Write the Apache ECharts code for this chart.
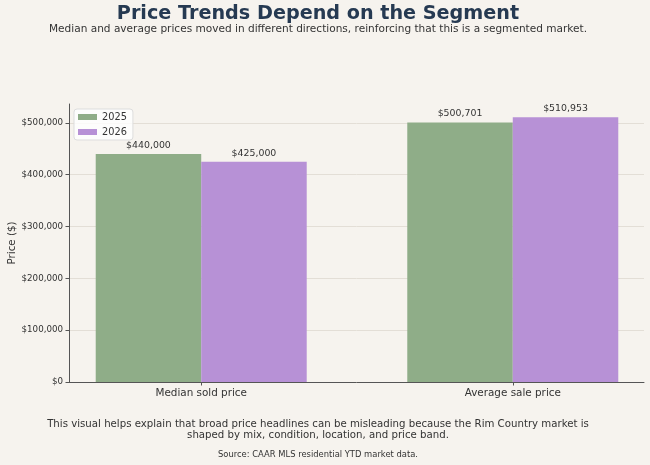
<!DOCTYPE html>
<html>
<head>
<meta charset="utf-8">
<script src="https://cdn.jsdelivr.net/npm/echarts@6/dist/echarts.min.js"></script>
<style>
html,body{margin:0;padding:0;background:#f6f3ee;}
#c{width:650px;height:465px;}
</style>
</head>
<body>
<div id="c"></div>
<script>
const categories = ['Median sold price', 'Average sale price'];
const seriesNames = ['2025', '2026'];
const values2025 = [440000, 500701];
const values2026 = [425000, 510953];
const yTicks = [0, 100000, 200000, 300000, 400000, 500000];

const FONT = 'DejaVu Sans';
const chart = echarts.init(document.getElementById('c'));
const fmt = v => '$' + v.toLocaleString('en-US');

function mk(name, vals, color) {
  return {
    name: name,
    type: 'bar',
    barWidth: 105.5,
    barGap: '0%',
    data: vals.map((v, i) => [i, v]),
    itemStyle: { color: color },
    label: {
      show: true, position: 'top', distance: 4,
      formatter: p => fmt(p.value[1]),
      fontFamily: FONT, fontSize: 9.4, color: '#333'
    },
    emphasis: { disabled: true }
  };
}

chart.setOption({
  backgroundColor: '#f6f3ee',
  animation: false,
  textStyle: { fontFamily: FONT },
  grid: { left: 69, right: 6, top: 104, bottom: 83, containLabel: false, outerBoundsMode: 'none' },
  legend: {
    orient: 'vertical', left: 74, top: 109,
    data: seriesNames,
    icon: 'rect', itemWidth: 19, itemHeight: 6, itemGap: 5,
    backgroundColor: 'rgba(255,255,255,0.8)', borderColor: '#dddddd', borderWidth: 1,
    borderRadius: 3, padding: [3, 6, 3, 4],
    textStyle: { fontFamily: FONT, fontSize: 9.8, color: '#333' }
  },
  xAxis: {
    type: 'value', min: -0.4244, max: 1.4212,
    splitLine: { show: false },
    axisLine: { show: true, onZero: false, lineStyle: { color: '#555', width: 1 } },
    axisTick: { show: true, length: 3.5, inside: false, customValues: [0, 1], lineStyle: { color: '#555' } },
    axisLabel: {
      customValues: [0, 1],
      formatter: v => categories[Math.round(v)] || '',
      fontFamily: FONT, fontSize: 10.4, color: '#333', margin: 6
    }
  },
  yAxis: {
    type: 'value', min: 0, max: 536500,
    name: 'Price ($)', nameLocation: 'middle', nameGap: 52, nameMoveOverlap: false,
    nameTextStyle: { fontFamily: FONT, fontSize: 10.3, color: '#333' },
    axisLine: { show: true, onZero: false, lineStyle: { color: '#555', width: 1 } },
    axisTick: { show: true, length: 3.5, customValues: yTicks, lineStyle: { color: '#555' } },
    axisLabel: { customValues: yTicks, formatter: v => fmt(v), fontFamily: FONT, fontSize: 8.7, color: '#333', margin: 6 },
    splitLine: { show: true, lineStyle: { color: '#e3ded6', width: 1 } }
  },
  series: [mk(seriesNames[0], values2025, '#8fad88'), mk(seriesNames[1], values2026, '#b791d6')],
  graphic: [
    { type: 'text', x: 318, y: 14, style: { text: 'Price Trends Depend on the Segment', fontFamily: FONT, fontWeight: 'bold', fontSize: 19.2, fill: '#263a52', textAlign: 'center', textVerticalAlign: 'middle' } },
    { type: 'text', x: 318, y: 29.5, style: { text: 'Median and average prices moved in different directions, reinforcing that this is a segmented market.', fontFamily: FONT, fontSize: 10.55, fill: '#333', textAlign: 'center', textVerticalAlign: 'middle' } },
    { type: 'text', x: 318, y: 424.5, style: { text: 'This visual helps explain that broad price headlines can be misleading because the Rim Country market is', fontFamily: FONT, fontSize: 10.2, fill: '#333', textAlign: 'center', textVerticalAlign: 'middle' } },
    { type: 'text', x: 318, y: 435.5, style: { text: 'shaped by mix, condition, location, and price band.', fontFamily: FONT, fontSize: 10.2, fill: '#333', textAlign: 'center', textVerticalAlign: 'middle' } },
    { type: 'text', x: 318, y: 454.5, style: { text: 'Source: CAAR MLS residential YTD market data.', fontFamily: FONT, fontSize: 8.4, fill: '#333', textAlign: 'center', textVerticalAlign: 'middle' } }
  ]
});
</script>
</body>
</html>
